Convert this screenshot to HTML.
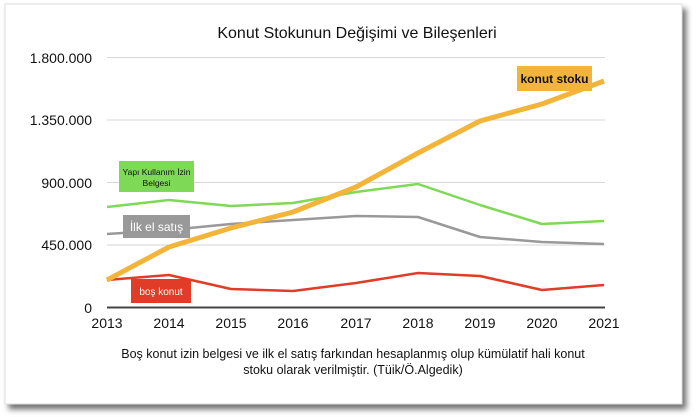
<!DOCTYPE html>
<html><head><meta charset="utf-8"><style>
html,body{margin:0;padding:0;background:#fff;width:700px;height:417px;overflow:hidden}
svg text{font-family:"Liberation Sans",Arial,sans-serif}
</style></head><body>
<svg width="700" height="417" viewBox="0 0 700 417" xmlns="http://www.w3.org/2000/svg">
<defs><filter id="sh" x="-5%" y="-5%" width="110%" height="115%"><feDropShadow dx="4" dy="5" stdDeviation="3" flood-color="#000" flood-opacity="0.55"/></filter></defs>
<rect x="0" y="0" width="700" height="417" fill="#fff"/>
<rect x="5" y="4" width="677" height="400" fill="#fff" stroke="#ddd" stroke-width="1" filter="url(#sh)"/>
<text x="357" y="38" font-size="16" text-anchor="middle" fill="#111">Konut Stokunun Değişimi ve Bileşenleri</text>
<g stroke="#d6d6d6" stroke-width="1">
<line x1="107" y1="57.5" x2="605" y2="57.5"/>
<line x1="107" y1="120" x2="605" y2="120"/>
<line x1="107" y1="182.5" x2="605" y2="182.5"/>
<line x1="107" y1="245" x2="605" y2="245"/>
</g>
<line x1="107" y1="307.5" x2="605" y2="307.5" stroke="#444" stroke-width="2"/>
<g font-size="14" fill="#111" text-anchor="end">
<text x="92" y="63">1.800.000</text>
<text x="92" y="125">1.350.000</text>
<text x="92" y="188">900.000</text>
<text x="92" y="250">450.000</text>
<text x="92" y="313">0</text>
</g>
<g font-size="14" fill="#111" text-anchor="middle">
<text x="107" y="328">2013</text><text x="169" y="328">2014</text><text x="231" y="328">2015</text><text x="293" y="328">2016</text><text x="356" y="328">2017</text><text x="418" y="328">2018</text><text x="480" y="328">2019</text><text x="542" y="328">2020</text><text x="604" y="328">2021</text>
</g>
<g fill="none" stroke-linejoin="round">
<polyline stroke="#7ed957" stroke-width="2.5" points="107,207 169,200 231,206 293,203 356,192 418,184 480,205 542,224 604,221"/>
<polyline stroke="#999" stroke-width="2.5" points="107,234 169,230 231,224 293,220 356,216 418,217 480,237 542,242 604,244"/>
<polyline stroke="#e03c28" stroke-width="2.5" points="107,280 169,275 231,289 293,291 356,283 418,273 480,276 542,290 604,285"/>
<polyline stroke="#f2b53a" stroke-width="5" points="107,280 169,247 231,228 293,212 356,187 418,153 480,121 542,104 604,81"/>
</g>
<rect x="517" y="66" width="75" height="25" fill="#f2b53a"/>
<text x="554.5" y="83" font-size="12" font-weight="bold" text-anchor="middle" fill="#111">konut stoku</text>
<rect x="119" y="161" width="75" height="31" fill="#7ed957"/>
<text x="156.5" y="175" font-size="8.5" text-anchor="middle" fill="#111">Yapı Kullanım İzin</text>
<text x="156.5" y="186" font-size="8.5" text-anchor="middle" fill="#111">Belgesi</text>
<rect x="123" y="215" width="67" height="23" fill="#999"/>
<text x="156.5" y="231" font-size="12" text-anchor="middle" fill="#fff">İlk el satış</text>
<rect x="131" y="279" width="60" height="24" fill="#e03c28"/>
<text x="161" y="295" font-size="10" text-anchor="middle" fill="#fff">boş konut</text>
<g font-size="12.5" fill="#111" text-anchor="middle">
<text x="353" y="358">Boş konut izin belgesi ve ilk el satış farkından hesaplanmış olup kümülatif hali konut</text>
<text x="353" y="374">stoku olarak verilmiştir. (Tüik/Ö.Algedik)</text>
</g>
</svg>
</body></html>
